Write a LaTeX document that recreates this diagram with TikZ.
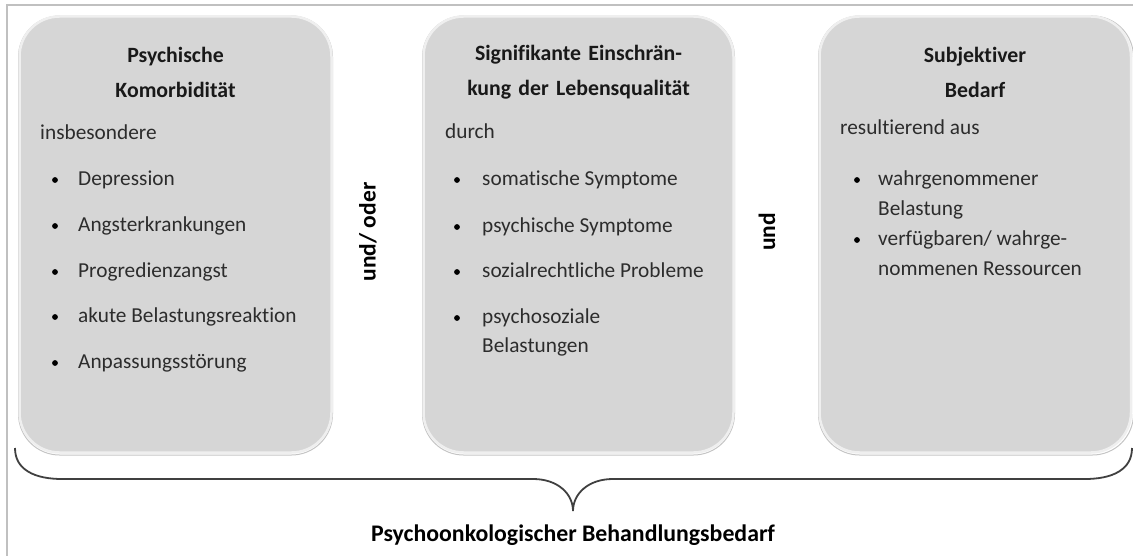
\documentclass[tikz,border=0pt]{standalone}
\usepackage{fontspec}
\setmainfont[Ligatures=NoCommon]{Carlito}
\usepackage{tikz}

\definecolor{cardfill}{HTML}{D6D6D6}
\definecolor{cardrim}{HTML}{EFEFEF}
\definecolor{cardedge}{HTML}{C4C4C4}
\definecolor{framegray}{HTML}{C0C0C0}
\definecolor{bracegray}{HTML}{404040}
\definecolor{textgray}{HTML}{2C2C2C}

\begin{document}
\begin{tikzpicture}[x=1pt,y=-1pt,
  card/.style={draw=cardrim,line width=2.5pt,fill=cardfill,rounded corners=40pt},
  cardshadow/.style={draw=cardedge,line width=1pt,rounded corners=41pt},
  head/.style={font=\fontsize{21.8}{35}\selectfont\bfseries,align=center,text width=300pt,inner sep=0pt,text=black!90},
  lead/.style={font=\fontsize{21.3}{30}\selectfont,anchor=west,inner sep=0pt,text height=15pt,text depth=4.5pt,text=textgray},
  dot/.style={circle,fill=black,inner sep=0pt,minimum size=5.8pt},
  joiner/.style={font=\fontsize{23.5}{28}\selectfont\bfseries,rotate=90,inner sep=0pt},
  brace/.style={draw=bracegray,line width=1.8pt}]
\useasboundingbox (0,0) rectangle (1133,556);
% frame
\draw[framegray,line width=2pt] (6.5,556) -- (6.5,5) -- (1133,5);
% cards
\draw[cardshadow] (18.5,16) rectangle (332.5,455);
\draw[card] (19.5,16.5) rectangle (331.5,452.5);
\draw[cardshadow] (422.5,16) rectangle (734.5,455);
\draw[card] (423.5,16.5) rectangle (733.5,452.5);
\draw[cardshadow] (818.5,16) rectangle (1133.5,455);
\draw[card] (819.5,16.5) rectangle (1131,452.5);
% first card
\node [head] (comorb) at (175.5,72) {Psychische\\Komorbidität};
\node [lead] (comorb0) at (40,134) {insbesondere};
\node [dot] (d11) at (55,180) {};
\node [lead] (comorb1) at (78,180) {Depression};
\node [dot] (d12) at (55,226) {};
\node [lead] (comorb2) at (78,226) {Angsterkrankungen};
\node [dot] (d13) at (55,272) {};
\node [lead] (comorb3) at (78,272) {Progredienzangst};
\node [dot] (d14) at (55,317) {};
\node [lead] (comorb4) at (78,317) {akute Belastungsreaktion};
\node [dot] (d15) at (55,363) {};
\node [lead] (comorb5) at (78,363) {Anpassungsstörung};
% second card
\node [head] (lebens) at (578.5,72) {Signifikante Einschrän-\\kung der Lebensqualität};
\node [lead] (lebens0) at (445,133) {durch};
\node [dot] (d21) at (457,180) {};
\node [lead] (lebens1) at (482,180) {somatische Symptome};
\node [dot] (d22) at (457,227) {};
\node [lead] (lebens2) at (482,227) {psychische Symptome};
\node [dot] (d23) at (457,272) {};
\node [lead] (lebens3) at (482,272) {sozialrechtliche Probleme};
\node [dot] (d24) at (457,318) {};
\node [lead] (lebens4) at (482,318) {psychosoziale};
\node [lead] (lebens4b) at (482,347) {Belastungen};
% third card
\node [head] (bedarf) at (975,72) {Subjektiver\\Bedarf};
\node [lead] (bedarf0) at (840,129) {resultierend aus};
\node [dot] (d31) at (857,180) {};
\node [lead] (bedarf1) at (878,180) {wahrgenommener};
\node [lead] (bedarf1b) at (878,210) {Belastung};
\node [dot] (d32) at (857,240) {};
\node [lead] (bedarf2) at (878,240) {verfügbaren/ wahrge-};
\node [lead] (bedarf2b) at (878,270) {nommenen Ressourcen};
% joining words
\node [joiner] (undoder) at (368,232) {und/ oder};
\node [joiner] (und) at (767,232) {und};
% brace and result
\coordinate (bl) at (15,448);
\coordinate (tip) at (573,511);
\coordinate (br) at (1132,448);
\draw[brace] (bl) .. controls (15,470) and (35,479) .. (62,479) -- (533,479)
  .. controls (558,479) and (573,494) .. (tip)
  .. controls (573,494) and (588,479) .. (613,479) -- (1085,479)
  .. controls (1112,479) and (1132,470) .. (br);
\node [font=\fontsize{23.8}{28}\selectfont\bfseries,inner sep=0pt] (result) at (573,535) {Psychoonkologischer Behandlungsbedarf};
\end{tikzpicture}
\end{document}
